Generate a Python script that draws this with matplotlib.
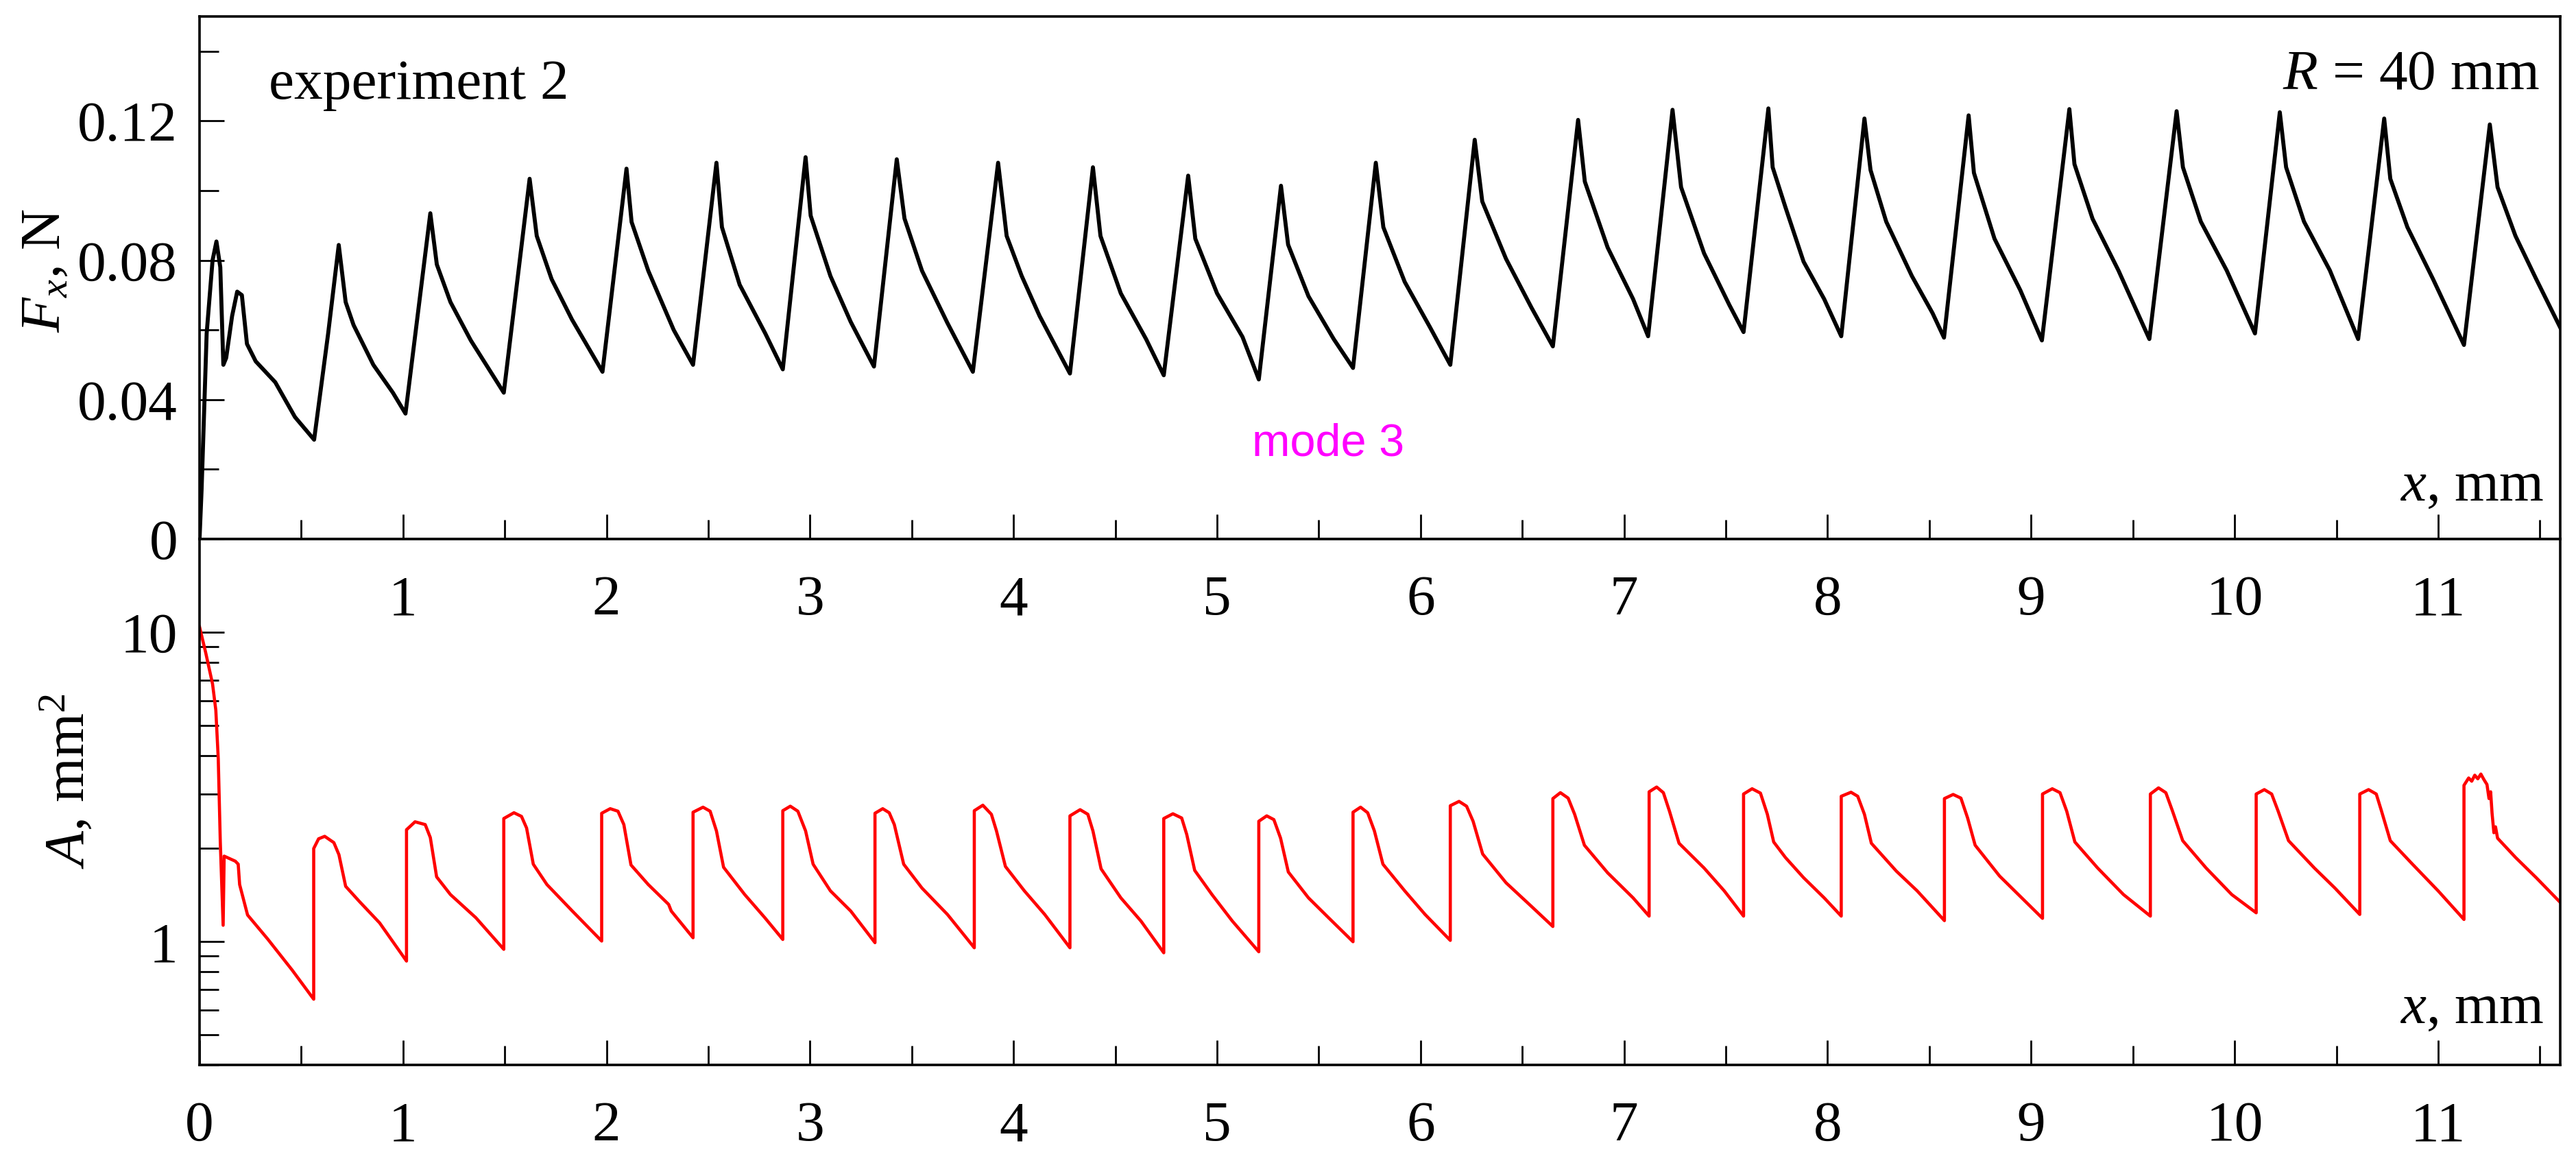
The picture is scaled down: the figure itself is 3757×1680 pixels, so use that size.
import matplotlib
matplotlib.use("Agg")
import numpy as np
import matplotlib.pyplot as plt
from matplotlib.ticker import MultipleLocator, FixedLocator, FuncFormatter, LogLocator, NullFormatter

# Fx(x) trace (x in mm, Fx in N)
fx_x = [0.000, 0.010, 0.035, 0.064, 0.083, 0.102, 0.117, 0.131, 0.160, 0.185, 0.208, 0.233,
        0.276, 0.372, 0.469, 0.563,
        0.632, 0.684, 0.718, 0.757, 0.854, 0.950, 1.012,
        1.134, 1.166, 1.233, 1.333, 1.495,
        1.622, 1.657, 1.730, 1.830, 1.980,
        2.098, 2.123, 2.205, 2.330, 2.425,
        2.540, 2.567, 2.654, 2.780, 2.866,
        2.978, 3.003, 3.100, 3.200, 3.314,
        3.426, 3.464, 3.550, 3.675, 3.800,
        3.924, 3.966, 4.040, 4.128, 4.277,
        4.390, 4.427, 4.527, 4.651, 4.738,
        4.858, 4.893, 5.000, 5.125, 5.205,
        5.314, 5.349, 5.449, 5.573, 5.668,
        5.780, 5.817, 5.922, 6.047, 6.146,
        6.266, 6.303, 6.420, 6.545, 6.650,
        6.774, 6.807, 6.919, 7.044, 7.118,
        7.238, 7.280, 7.393, 7.517, 7.587,
        7.709, 7.730, 7.793, 7.882, 7.983, 8.067,
        8.181, 8.211, 8.288, 8.414, 8.516, 8.572,
        8.693, 8.719, 8.820, 8.947, 9.053,
        9.188, 9.213, 9.302, 9.429, 9.581,
        9.715, 9.746, 9.834, 9.961, 10.100,
        10.222, 10.253, 10.341, 10.468, 10.607,
        10.735, 10.765, 10.849, 10.975, 11.127,
        11.254, 11.292, 11.380, 11.482, 11.600]
fx_y = [0.000, 0.014, 0.059, 0.080, 0.0854, 0.078, 0.050, 0.052, 0.064, 0.071, 0.070, 0.056,
        0.051, 0.045, 0.035, 0.0285,
        0.059, 0.0844, 0.068, 0.0614, 0.050, 0.042, 0.036,
        0.0935, 0.0788, 0.068, 0.057, 0.042,
        0.1034, 0.087, 0.0746, 0.063, 0.048,
        0.1063, 0.091, 0.077, 0.060, 0.050,
        0.108, 0.0895, 0.073, 0.059, 0.0487,
        0.1096, 0.0928, 0.0755, 0.0623, 0.0495,
        0.109, 0.092, 0.077, 0.062, 0.048,
        0.108, 0.087, 0.0755, 0.064, 0.0475,
        0.1067, 0.087, 0.0705, 0.0574, 0.047,
        0.1043, 0.0862, 0.0705, 0.058, 0.0458,
        0.1014, 0.0845, 0.0697, 0.0574, 0.0491,
        0.108, 0.0895, 0.0738, 0.0607, 0.050,
        0.1146, 0.0969, 0.0804, 0.0664, 0.0553,
        0.1203, 0.1026, 0.0837, 0.0689, 0.0582,
        0.1232, 0.101, 0.082, 0.0672, 0.0594,
        0.1236, 0.1067, 0.0952, 0.0796, 0.0689, 0.0582,
        0.1207, 0.1059, 0.0911, 0.0755, 0.0648, 0.0578,
        0.1216, 0.1051, 0.0862, 0.0714, 0.057,
        0.1234, 0.1076, 0.0919, 0.0771, 0.0574,
        0.1228, 0.1067, 0.0911, 0.0771, 0.059,
        0.1225, 0.1067, 0.0911, 0.0771, 0.0574,
        0.1207, 0.1034, 0.0895, 0.0746, 0.0557,
        0.119, 0.101, 0.087, 0.0746, 0.0607]

# A(x) trace (x in mm, A in mm^2)
a_x = [0.000, 0.030, 0.064, 0.080, 0.092, 0.102, 0.116, 0.121, 0.176, 0.190, 0.197, 0.236,
       0.335, 0.455, 0.561,
       0.561, 0.585, 0.615, 0.660, 0.685, 0.718, 0.785, 0.885, 1.017,
       1.017, 1.059, 1.109, 1.134, 1.165, 1.233, 1.358, 1.495,
       1.495, 1.545, 1.582, 1.607, 1.640, 1.707, 1.832, 1.976,
       1.976, 2.018, 2.056, 2.085, 2.120, 2.205, 2.305, 2.318, 2.425,
       2.425, 2.474, 2.509, 2.540, 2.575, 2.679, 2.778, 2.866,
       2.866, 2.903, 2.940, 2.978, 3.015, 3.100, 3.200, 3.319,
       3.319, 3.357, 3.389, 3.414, 3.460, 3.550, 3.675, 3.807,
       3.807, 3.849, 3.891, 3.916, 3.960, 4.053, 4.153, 4.277,
       4.277, 4.327, 4.365, 4.390, 4.430, 4.527, 4.626, 4.738,
       4.738, 4.783, 4.826, 4.851, 4.890, 4.975, 5.075, 5.205,
       5.205, 5.244, 5.279, 5.312, 5.350, 5.449, 5.548, 5.668,
       5.668, 5.705, 5.740, 5.773, 5.815, 5.922, 6.022, 6.146,
       6.146, 6.189, 6.226, 6.258, 6.305, 6.420, 6.545, 6.650,
       6.650, 6.687, 6.725, 6.757, 6.805, 6.919, 7.044, 7.123,
       7.123, 7.160, 7.193, 7.223, 7.270, 7.393, 7.492, 7.587,
       7.587, 7.629, 7.670, 7.704, 7.735, 7.793, 7.882, 7.983, 8.067,
       8.067, 8.115, 8.148, 8.181, 8.215, 8.338, 8.440, 8.574,
       8.574, 8.617, 8.655, 8.688, 8.725, 8.845, 8.947, 9.056,
       9.056, 9.104, 9.142, 9.175, 9.215, 9.327, 9.454, 9.586,
       9.586, 9.626, 9.662, 9.695, 9.745, 9.860, 9.986, 10.106,
       10.106, 10.146, 10.182, 10.214, 10.265, 10.392, 10.493, 10.615,
       10.615, 10.658, 10.696, 10.722, 10.765, 10.874, 11.000, 11.127,
       11.127, 11.150, 11.165, 11.180, 11.195, 11.210, 11.225, 11.240, 11.250, 11.258,
       11.265, 11.274, 11.282, 11.292, 11.381, 11.482, 11.600]
a_y = [10.4, 8.6, 6.8, 5.6, 3.9, 2.1, 1.13, 1.89, 1.82, 1.78, 1.53, 1.22,
       1.02, 0.81, 0.652,
       2.00, 2.15, 2.19, 2.09, 1.91, 1.51, 1.35, 1.15, 0.866,
       2.30, 2.44, 2.39, 2.17, 1.62, 1.42, 1.195, 0.945,
       2.50, 2.61, 2.54, 2.33, 1.78, 1.53, 1.256, 1.005,
       2.60, 2.69, 2.64, 2.39, 1.77, 1.53, 1.32, 1.256, 1.03,
       2.62, 2.72, 2.64, 2.28, 1.74, 1.42, 1.195, 1.017,
       2.65, 2.74, 2.64, 2.28, 1.78, 1.46, 1.256, 0.993,
       2.60, 2.69, 2.61, 2.39, 1.78, 1.49, 1.225, 0.956,
       2.65, 2.76, 2.58, 2.28, 1.75, 1.46, 1.225, 0.956,
       2.55, 2.67, 2.58, 2.28, 1.72, 1.386, 1.166, 0.921,
       2.50, 2.59, 2.51, 2.22, 1.70, 1.42, 1.166, 0.928,
       2.45, 2.55, 2.48, 2.16, 1.68, 1.386, 1.195, 1.00,
       2.62, 2.72, 2.61, 2.28, 1.78, 1.46, 1.225, 1.01,
       2.75, 2.84, 2.74, 2.45, 1.92, 1.55, 1.30, 1.12,
       2.90, 3.03, 2.91, 2.58, 2.05, 1.67, 1.386, 1.21,
       3.05, 3.16, 3.03, 2.64, 2.08, 1.73, 1.46, 1.21,
       3.00, 3.12, 3.02, 2.58, 2.10, 1.87, 1.61, 1.386, 1.21,
       2.95, 3.04, 2.95, 2.58, 2.08, 1.69, 1.46, 1.17,
       2.90, 2.99, 2.91, 2.51, 2.05, 1.63, 1.40, 1.19,
       3.00, 3.12, 3.03, 2.64, 2.10, 1.73, 1.42, 1.21,
       3.00, 3.14, 3.03, 2.64, 2.12, 1.73, 1.42, 1.24,
       3.00, 3.10, 3.00, 2.64, 2.12, 1.73, 1.49, 1.225,
       3.00, 3.10, 3.00, 2.64, 2.12, 1.78, 1.46, 1.18,
       3.20, 3.38, 3.30, 3.45, 3.36, 3.48, 3.34, 3.22, 2.90, 3.05,
       2.60, 2.25, 2.35, 2.16, 1.87, 1.61, 1.34]

plt.rcParams['font.family'] = ['Liberation Serif', 'DejaVu Serif']
plt.rcParams['mathtext.fontset'] = 'custom'
plt.rcParams['mathtext.rm'] = 'Liberation Serif'
plt.rcParams['mathtext.it'] = 'Liberation Serif:italic'

FS = 60
fig = plt.figure(figsize=(37.57, 16.80), dpi=100)
# bottom panel first so the upper panel's tick labels are drawn over it
ax_a = fig.add_axes([0.07746, 0.07560, 0.91642, 0.45655])
ax_f = fig.add_axes([0.07746, 0.53214, 0.91642, 0.45357])

for ax in (ax_f, ax_a):
    for sp in ax.spines.values():
        sp.set_linewidth(2.6)
    ax.set_xlim(0, 11.6)
    ax.xaxis.set_major_locator(MultipleLocator(1))
    ax.xaxis.set_minor_locator(MultipleLocator(0.5))
    ax.tick_params(which='both', direction='in', top=False, right=False,
                   width=2.0, labelsize=FS)
    ax.tick_params(which='major', length=26)
    ax.tick_params(which='minor', length=20)
    ax.tick_params(axis='x', pad=38)
    ax.tick_params(axis='y', pad=23)

# upper panel: Fx
ax_f.plot(fx_x, fx_y, color='black', lw=4.2, solid_joinstyle='round')
ax_f.set_ylim(0, 0.15)
ax_f.yaxis.set_major_locator(MultipleLocator(0.04))
ax_f.yaxis.set_minor_locator(MultipleLocator(0.02))
ax_f.yaxis.set_major_formatter(FuncFormatter(lambda v, p: '0' if abs(v) < 1e-9 else '%.2f' % v))
ax_f.xaxis.set_major_formatter(FuncFormatter(lambda v, p: '' if abs(v) < 1e-9 else '%d' % round(v)))
ax_f.set_ylabel(r'$F_x$, N', fontsize=FS)
ax_f.yaxis.set_label_coords(-0.054, 0.514)

ax_f.text(0.0293, 0.8425, 'experiment 2', transform=ax_f.transAxes, fontsize=FS,
          ha='left', va='baseline')
ax_f.text(0.9911, 0.861, r'$R$ = 40 mm', transform=ax_f.transAxes, fontsize=FS,
          ha='right', va='baseline')
ax_f.text(0.9929, 0.0735, r'$x$, mm', transform=ax_f.transAxes, fontsize=FS,
          ha='right', va='baseline')
ax_f.text(5.546, 0.0239, 'mode 3', color='#ff00ff', family='Liberation Sans',
          fontsize=48, ha='center', va='baseline')

# lower panel: A (log scale)
ax_a.plot(a_x, a_y, color='red', lw=3.3, solid_joinstyle='round')
ax_a.set_yscale('log')
ax_a.set_ylim(0.4, 20)
ax_a.yaxis.set_major_locator(FixedLocator([1, 10]))
ax_a.yaxis.set_minor_locator(LogLocator(base=10, subs=np.arange(2, 10)))
ax_a.yaxis.set_major_formatter(FuncFormatter(lambda v, p: '%g' % v))
ax_a.yaxis.set_minor_formatter(NullFormatter())
ax_a.xaxis.set_major_formatter(FuncFormatter(lambda v, p: '%d' % round(v)))
ax_a.set_ylabel(r'$A$, mm$^2$', fontsize=FS)
ax_a.yaxis.set_label_coords(-0.044, 0.540)
ax_a.text(0.9929, 0.0795, r'$x$, mm', transform=ax_a.transAxes, fontsize=FS,
          ha='right', va='baseline')

fig.savefig('out.png', dpi=100)
